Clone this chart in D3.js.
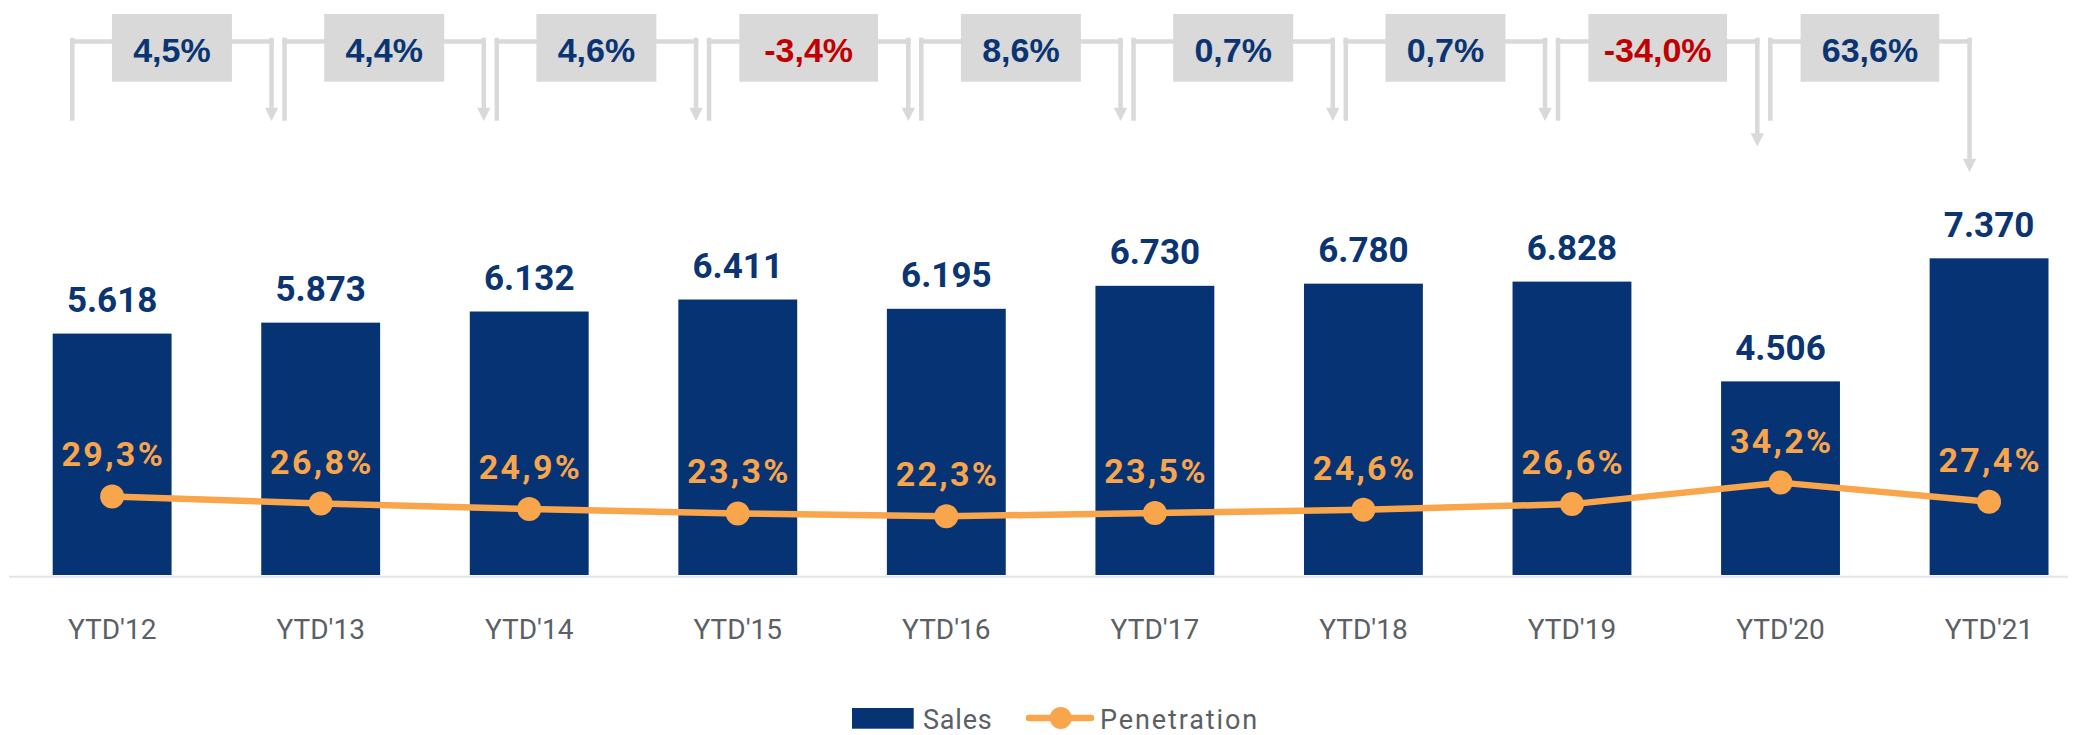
<!DOCTYPE html>
<html>
<head>
<meta charset="utf-8">
<script src="https://cdn.jsdelivr.net/npm/d3@7"></script>
<style>
  html, body { margin: 0; padding: 0; background: #ffffff; }
  svg { display: block; }
</style>
</head>
<body>
<svg id="chart" width="2073" height="735"></svg>
<script>
// ---- data ----
const categories = ["YTD'12", "YTD'13", "YTD'14", "YTD'15", "YTD'16", "YTD'17", "YTD'18", "YTD'19", "YTD'20", "YTD'21"];
const sales = [5618, 5873, 6132, 6411, 6195, 6730, 6780, 6828, 4506, 7370];
const penetration = [29.3, 26.8, 24.9, 23.3, 22.3, 23.5, 24.6, 26.6, 34.2, 27.4];
const growth = [4.5, 4.4, 4.6, -3.4, 8.6, 0.7, 0.7, -34.0, 63.6];
const seriesNames = ["Sales", "Penetration"];

// ---- styles ----
const NAVY = "#063373";
const NAVY_TEXT = "#0a3572";
const ORANGE = "#f9a54b";
const RED = "#c00000";
const GREY_ANN = "#d9d9d9";
const AXIS_TEXT = "#5b6065";

const locale = d3.formatLocale({ decimal: ",", thousands: ".", grouping: [3], currency: ["", ""], minus: "-" });
const fmtSales = locale.format(",d");
const fmtPct = v => locale.format(".1f")(v) + "%";

const svg = d3.select("#chart");

// ---- scales ----
const x = d3.scaleBand().domain(categories).range([52.7, 2048.5]).paddingInner(0.43).paddingOuter(0);
const yBar = d3.scaleLinear().domain([0, 8000]).range([575, 575 - 8000 * 0.04297]);
const yLine = d3.scaleLinear().domain([0, 40]).range([579.4, 579.4 - 40 * 2.83]);
const annX = d3.scalePoint().domain(categories).range([72.3, 72.3 + 9 * 212.25]);
const cx = c => x(c) + x.bandwidth() / 2;

// ---- bars ----
svg.append("g").selectAll("rect").data(sales).join("rect")
  .attr("x", (d, i) => x(categories[i]))
  .attr("y", d => yBar(d))
  .attr("width", x.bandwidth())
  .attr("height", d => yBar(0) - yBar(d))
  .attr("fill", NAVY);

// ---- x axis ----
const xAxis = d3.axisBottom(x).tickSize(0).tickPadding(0);
const gx = svg.append("g").attr("transform", "translate(0,576.7)").call(xAxis);
gx.select(".domain").remove();
gx.append("line").attr("x1", 9).attr("x2", 2068).attr("y1", 0).attr("y2", 0)
  .attr("stroke", "#e4e4e4").attr("stroke-width", 2);
gx.selectAll(".tick text")
  .attr("y", 62.3).attr("dy", null)
  .attr("font-family", "Roboto, sans-serif")
  .attr("font-size", 28)
  .attr("fill", AXIS_TEXT);

// ---- bar value labels ----
svg.append("g").selectAll("text").data(sales).join("text")
  .attr("x", (d, i) => cx(categories[i]))
  .attr("y", d => yBar(d) - 21.5)
  .attr("text-anchor", "middle")
  .attr("font-family", "Roboto, sans-serif")
  .attr("font-weight", 700)
  .attr("font-size", 35)
  .attr("fill", NAVY_TEXT)
  .text(d => fmtSales(d));

// ---- penetration line ----
const line = d3.line().x((d, i) => cx(categories[i])).y(d => yLine(d));
svg.append("path").datum(penetration)
  .attr("d", line)
  .attr("fill", "none")
  .attr("stroke", ORANGE)
  .attr("stroke-width", 6.5)
  .attr("stroke-linejoin", "round");
svg.append("g").selectAll("circle").data(penetration).join("circle")
  .attr("cx", (d, i) => cx(categories[i]))
  .attr("cy", d => yLine(d))
  .attr("r", 12)
  .attr("fill", ORANGE);
svg.append("g").selectAll("text").data(penetration).join("text")
  .attr("x", (d, i) => cx(categories[i]) + 1.2)
  .attr("y", d => yLine(d) - 30)
  .attr("text-anchor", "middle")
  .attr("font-family", "Roboto, sans-serif")
  .attr("font-weight", 700)
  .attr("font-size", 34)
  .attr("letter-spacing", 2.3)
  .attr("fill", ORANGE)
  .text(d => fmtPct(d));

// ---- growth annotations ----
const ann = svg.append("g");
const lineW = 4.5;
const arrowTip = i => i < 7 ? 121 : 121 + (i - 6) * 25.5;
growth.forEach((g, i) => {
  const x0 = annX(categories[i]);
  const x1 = annX(categories[i + 1]) - 13;
  const tip = arrowTip(i);
  const grp = ann.append("g");
  grp.append("line").attr("x1", x0).attr("x2", x0).attr("y1", 37.7).attr("y2", 120.7)
    .attr("stroke", GREY_ANN).attr("stroke-width", lineW);
  grp.append("line").attr("x1", x0 - lineW / 2).attr("x2", x1 + lineW / 2).attr("y1", 41.5).attr("y2", 41.5)
    .attr("stroke", GREY_ANN).attr("stroke-width", lineW);
  grp.append("line").attr("x1", x1).attr("x2", x1).attr("y1", 37.7).attr("y2", tip - 12)
    .attr("stroke", GREY_ANN).attr("stroke-width", lineW);
  grp.append("path")
    .attr("d", `M${x1 - 6.7},${tip - 13.3} L${x1 + 6.7},${tip - 13.3} L${x1},${tip} Z`)
    .attr("fill", GREY_ANN);
  const label = fmtPct(g);
  const mid = (x0 + x1) / 2;
  const rect = grp.append("rect").attr("y", 14).attr("height", 67.7).attr("fill", GREY_ANN);
  const t = grp.append("text")
    .attr("x", mid).attr("y", 61.7)
    .attr("text-anchor", "middle")
    .attr("font-family", "'Liberation Sans', Arial, sans-serif")
    .attr("font-weight", 700)
    .attr("font-size", 34)
    .attr("fill", g < 0 ? RED : NAVY_TEXT)
    .text(label);
  const tw = t.node().getComputedTextLength();
  const bw = tw > 85 ? 138.7 : 120;
  rect.attr("x", mid - bw / 2).attr("width", bw);
});

// ---- legend ----
const lg = svg.append("g");
lg.append("rect").attr("x", 852).attr("y", 708).attr("width", 61.7).attr("height", 20.7).attr("fill", NAVY);
lg.append("text").attr("x", 923).attr("y", 729)
  .attr("font-family", "Roboto, sans-serif").attr("font-size", 27).attr("letter-spacing", 0.8)
  .attr("fill", AXIS_TEXT).text(seriesNames[0]);
lg.append("line").attr("x1", 1029).attr("x2", 1091).attr("y1", 718).attr("y2", 718)
  .attr("stroke", ORANGE).attr("stroke-width", 6.5).attr("stroke-linecap", "round");
lg.append("circle").attr("cx", 1060.7).attr("cy", 718).attr("r", 11).attr("fill", ORANGE);
lg.append("text").attr("x", 1100).attr("y", 729)
  .attr("font-family", "Roboto, sans-serif").attr("font-size", 27).attr("letter-spacing", 1.9)
  .attr("fill", AXIS_TEXT).text(seriesNames[1]);
</script>
</body>
</html>
